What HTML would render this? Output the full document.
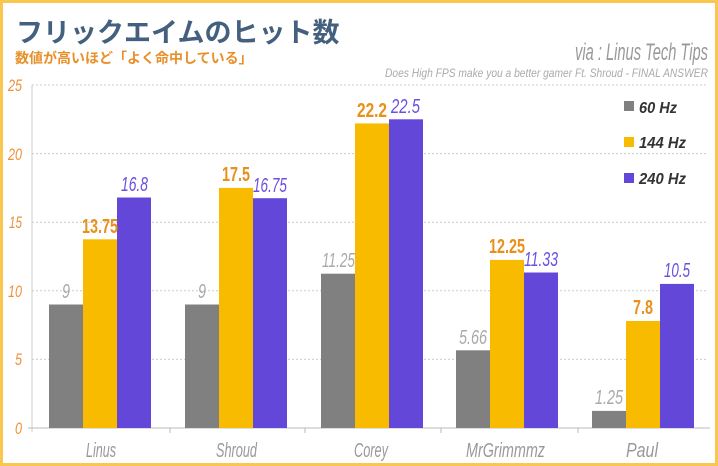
<!DOCTYPE html>
<html><head><meta charset="utf-8"><style>
html,body{margin:0;padding:0;background:#fff}
svg{display:block}
.n{font-family:"Liberation Sans",sans-serif;font-style:italic}
</style></head><body>
<svg width="718" height="466" viewBox="0 0 718 466" xmlns="http://www.w3.org/2000/svg">
<rect x="1.5" y="1.5" width="715" height="463" fill="#fff" stroke="#f9c74f" stroke-width="3"/>
<text x="16" y="42" font-family="'Liberation Sans','Noto Sans CJK JP',sans-serif" font-weight="bold" font-size="27" fill="#44607e">フリックエイムのヒット数</text>
<text x="15" y="63" font-family="'Liberation Sans','Noto Sans CJK JP',sans-serif" font-weight="bold" font-size="14" fill="#e8902a">数値が高いほど「よく命中している」</text>
<text class="n" x="575" y="60" font-size="24" fill="#999" textLength="133" lengthAdjust="spacingAndGlyphs">via : Linus Tech Tips</text>
<text class="n" x="385" y="77" font-size="12" fill="#aaa" textLength="323" lengthAdjust="spacingAndGlyphs">Does High FPS make you a better gamer Ft. Shroud - FINAL ANSWER</text>
<g stroke="#ccc" stroke-dasharray="2,2" stroke-width="1">
<line x1="32" x2="708" y1="85" y2="85"/><line x1="32" x2="708" y1="153.6" y2="153.6"/><line x1="32" x2="708" y1="222.2" y2="222.2"/><line x1="32" x2="708" y1="290.8" y2="290.8"/><line x1="32" x2="708" y1="359.4" y2="359.4"/>
</g>
<line x1="32" y1="85" x2="32" y2="432" stroke="#ccc"/>
<line x1="28" y1="428" x2="710" y2="428" stroke="#bbb"/>
<g stroke="#bbb"><line x1="170" x2="170" y1="428" y2="433"/><line x1="305" x2="305" y1="428" y2="433"/><line x1="441" x2="441" y1="428" y2="433"/><line x1="578" x2="578" y1="428" y2="433"/></g>
<g class="n" font-size="17" fill="#f0903a">
<text x="8" y="91" textLength="14" lengthAdjust="spacingAndGlyphs">25</text><text x="8" y="160" textLength="14" lengthAdjust="spacingAndGlyphs">20</text><text x="9" y="228" textLength="13" lengthAdjust="spacingAndGlyphs">15</text><text x="8" y="297" textLength="14" lengthAdjust="spacingAndGlyphs">10</text><text x="15" y="365" textLength="7" lengthAdjust="spacingAndGlyphs">5</text><text x="15" y="434" textLength="7" lengthAdjust="spacingAndGlyphs">0</text>
</g>
<g class="n" font-size="20" fill="#999">
<text x="86" y="457" textLength="30" lengthAdjust="spacingAndGlyphs">Linus</text><text x="216" y="457" textLength="41" lengthAdjust="spacingAndGlyphs">Shroud</text><text x="354" y="457" textLength="34" lengthAdjust="spacingAndGlyphs">Corey</text><text x="466" y="457" textLength="79" lengthAdjust="spacingAndGlyphs">MrGrimmmz</text><text x="626" y="457" textLength="32" lengthAdjust="spacingAndGlyphs">Paul</text>
</g>
<g fill="#808080">
<rect x="49" y="304.5" width="34" height="123.5"/><rect x="185" y="304.5" width="34" height="123.5"/><rect x="321" y="273.7" width="34" height="154.3"/><rect x="456" y="350.3" width="34" height="77.7"/><rect x="592" y="410.9" width="34" height="17.1"/>
</g>
<g fill="#f9bb00">
<rect x="83" y="239.3" width="34" height="188.7"/><rect x="219" y="187.9" width="34" height="240.1"/><rect x="355" y="123.4" width="34" height="304.6"/><rect x="490" y="259.9" width="34" height="168.1"/><rect x="626" y="321" width="34" height="107"/>
</g>
<g fill="#6347d8">
<rect x="117" y="197.5" width="34" height="230.5"/><rect x="253" y="198.2" width="34" height="229.8"/><rect x="389" y="119.3" width="34" height="308.7"/><rect x="524" y="272.5" width="34" height="155.5"/><rect x="660" y="283.9" width="34" height="144.1"/>
</g>
<g class="n" font-size="20">
<g fill="#aaa"><text x="62" y="298" textLength="8" lengthAdjust="spacingAndGlyphs">9</text><text x="198" y="298" textLength="8" lengthAdjust="spacingAndGlyphs">9</text><text x="322" y="267" textLength="33" lengthAdjust="spacingAndGlyphs">11.25</text><text x="459" y="344" textLength="28" lengthAdjust="spacingAndGlyphs">5.66</text><text x="595" y="404" textLength="28" lengthAdjust="spacingAndGlyphs">1.25</text></g>
<g fill="#e8901a" font-weight="bold" font-style="normal"><text x="82" y="233" textLength="36" lengthAdjust="spacingAndGlyphs">13.75</text><text x="222" y="181" textLength="28" lengthAdjust="spacingAndGlyphs">17.5</text><text x="357" y="117" textLength="30" lengthAdjust="spacingAndGlyphs">22.2</text><text x="489" y="253" textLength="36" lengthAdjust="spacingAndGlyphs">12.25</text><text x="633" y="314" textLength="20" lengthAdjust="spacingAndGlyphs">7.8</text></g>
<g fill="#6b4fe0"><text x="121" y="191" textLength="27" lengthAdjust="spacingAndGlyphs">16.8</text><text x="253" y="192" textLength="34" lengthAdjust="spacingAndGlyphs">16.75</text><text x="391" y="113" textLength="29" lengthAdjust="spacingAndGlyphs">22.5</text><text x="524" y="266" textLength="34" lengthAdjust="spacingAndGlyphs">11.33</text><text x="664" y="277" textLength="26" lengthAdjust="spacingAndGlyphs">10.5</text></g>
</g>
<rect x="624" y="101" width="10" height="10" fill="#808080"/>
<rect x="624" y="137" width="10" height="10" fill="#f9bb00"/>
<rect x="624" y="173" width="10" height="10" fill="#6347d8"/>
<g class="n" font-size="16" fill="#333" font-weight="bold">
<text x="639" y="113" textLength="38" lengthAdjust="spacingAndGlyphs">60 Hz</text><text x="639" y="148" textLength="47" lengthAdjust="spacingAndGlyphs">144 Hz</text><text x="639" y="184" textLength="47" lengthAdjust="spacingAndGlyphs">240 Hz</text>
</g>
</svg>
</body></html>
